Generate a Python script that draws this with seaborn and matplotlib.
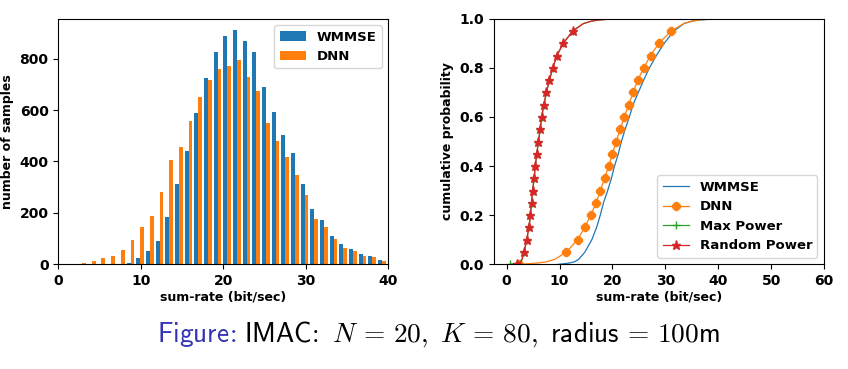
import numpy as np
import pandas as pd
import matplotlib
matplotlib.use("Agg")
import matplotlib.pyplot as plt
import matplotlib.colors as mcolors
import seaborn as sns

# histogram (counts per bin)
BIN_START = 2.3
BIN_WIDTH = 1.172
WMMSE_COUNTS = [0, 0, 0, 0, 0, 4, 24, 52, 90, 183, 314, 442, 589, 724, 825, 890, 910,
                867, 825, 689, 593, 504, 434, 314, 214, 171, 110, 79, 59, 40, 32, 17, 19]
DNN_COUNTS = [5, 13, 24, 32, 55, 94, 144, 187, 280, 407, 457, 558, 651, 716, 759, 771, 794,
              728, 674, 550, 481, 419, 349, 268, 175, 144, 98, 63, 52, 32, 28, 13, 10]

# cdf curves: sum-rate at given cumulative probability
PROB = [0.0, 0.005, 0.01, 0.02, 0.05, 0.10, 0.15, 0.20, 0.25, 0.30, 0.35, 0.40, 0.45,
        0.50, 0.55, 0.60, 0.65, 0.70, 0.75, 0.80, 0.85, 0.90, 0.95, 0.98, 0.99, 0.995, 1.0]
CDF_WMMSE = [9.8, 11.8, 12.8, 13.6, 14.8, 16.1, 17.0, 17.7, 18.3, 19.1, 19.8, 20.4, 21.1,
             21.7, 22.4, 23.2, 23.9, 24.9, 25.9, 27.0, 28.3, 29.8, 31.6, 33.5, 35.0, 36.5, 40.0]
CDF_DNN = [2.3, 5.8, 7.5, 9.1, 11.3, 13.4, 14.75, 15.9, 16.9, 17.7, 18.5, 19.3, 20.0,
           20.7, 21.5, 22.2, 23.1, 23.9, 24.8, 25.9, 27.2, 28.8, 31.1, 33.5, 35.0, 36.5, 39.7]
CDF_MAXP = [0.6, 2.2, 2.6, 2.9, 3.3, 3.8, 4.2, 4.5, 4.7, 4.9, 5.2, 5.4, 5.7,
            6.0, 6.35, 6.6, 7.05, 7.5, 8.1, 8.7, 9.5, 10.7, 12.5, 14.5, 16.0, 17.5, 20.5]
CDF_RANDP = [1.9, 2.4, 2.7, 2.9, 3.3, 3.8, 4.2, 4.5, 4.7, 4.9, 5.2, 5.4, 5.7,
             6.0, 6.35, 6.6, 7.05, 7.5, 8.1, 8.7, 9.5, 10.7, 12.5, 14.5, 16.0, 17.5, 20.5]

BLUE, ORANGE, GREEN, RED = "#1f77b4", "#ff7f0e", "#2ca02c", "#d62728"

plt.rcParams["font.weight"] = "bold"
plt.rcParams["axes.labelweight"] = "bold"
plt.rcParams["mathtext.fontset"] = "cm"

fig = plt.figure(figsize=(8.48, 3.69), dpi=100)
ax1 = fig.add_axes([0.0688, 0.2837, 0.3892, 0.6656])
ax2 = fig.add_axes([0.5825, 0.2837, 0.3892, 0.6656])

# ---- left: histogram
n_bins = len(DNN_COUNTS)
edges = [BIN_START + BIN_WIDTH * i for i in range(n_bins + 1)]
centers = [(a + b) / 2 for a, b in zip(edges[:-1], edges[1:])]
hist_df = pd.DataFrame({
    "rate": centers + centers,
    "count": WMMSE_COUNTS + DNN_COUNTS,
    "method": ["WMMSE"] * n_bins + ["DNN"] * n_bins,
})
sns.histplot(data=hist_df, x="rate", weights="count", hue="method",
             hue_order=["WMMSE", "DNN"], palette=[BLUE, ORANGE], bins=edges,
             multiple="dodge", shrink=1, alpha=1, linewidth=0, ax=ax1)
# match matplotlib's side-by-side hist layout (bars touching, 0.8 of the bin)
blue_rgba = mcolors.to_rgba(BLUE)
for p in ax1.patches:
    w = p.get_width()
    if np.allclose(p.get_facecolor(), blue_rgba):
        p.set_x(p.get_x() + 0.2 * w)
    p.set_width(0.8 * w)

ax1.set_xlim(0, 40)
ax1.set_xticks([0, 10, 20, 30, 40])
ax1.set_yticks([0, 200, 400, 600, 800])
ax1.set_xlabel("sum-rate (bit/sec)", fontsize=9, labelpad=2)
ax1.set_ylabel("number of samples", fontsize=9)
ax1.tick_params(labelsize=10)
sns.move_legend(ax1, "upper right", title=None, fontsize=9.5)

# ---- right: CDFs
marks = [i for i, p in enumerate(PROB) if p < 1 and abs(p * 20 - round(p * 20)) < 1e-9]
curves = [("WMMSE", CDF_WMMSE, BLUE, None, 0),
          ("DNN", CDF_DNN, ORANGE, "8", 5.5),
          ("Max Power", CDF_MAXP, GREEN, "+", 6),
          ("Random Power", CDF_RANDP, RED, "*", 6.5)]
for name, vals, col, mk, ms in curves:
    kw = dict(marker=mk, markevery=marks, markersize=ms, mec=col, mfc=col, mew=1) if mk else {}
    sns.lineplot(x=vals, y=PROB, color=col, lw=0.9, sort=False, estimator=None,
                 label=name, ax=ax2, **kw)

ax2.set_xlim(-2.4, 60)
ax2.set_ylim(0, 1)
ax2.set_xticks([0, 10, 20, 30, 40, 50, 60])
ax2.set_yticks([0, 0.2, 0.4, 0.6, 0.8, 1.0])
ax2.set_xlabel("sum-rate (bit/sec)", fontsize=9, labelpad=2)
ax2.set_ylabel("cumulative probability", fontsize=9)
ax2.tick_params(labelsize=10)
ax2.legend(loc="lower right", fontsize=9.5)

# ---- caption
CAP_Y = 0.073
t1 = fig.text(157 / 848, CAP_Y, r"$\mathsf{Figure}\!:$", color="#3333b3",
              fontsize=19.7, va="baseline", ha="left")
fig.canvas.draw()
bb = t1.get_window_extent()
fig.text((bb.x1 + 8) / fig.bbox.width, CAP_Y,
         r"$\mathsf{IMAC}\!:\ N\,=\,20,\ K\,=\,80,\ \mathsf{radius}\,=\,100\mathsf{m}$",
         color="black", fontsize=19.7, va="baseline", ha="left")

fig.savefig("out.png", dpi=100)
